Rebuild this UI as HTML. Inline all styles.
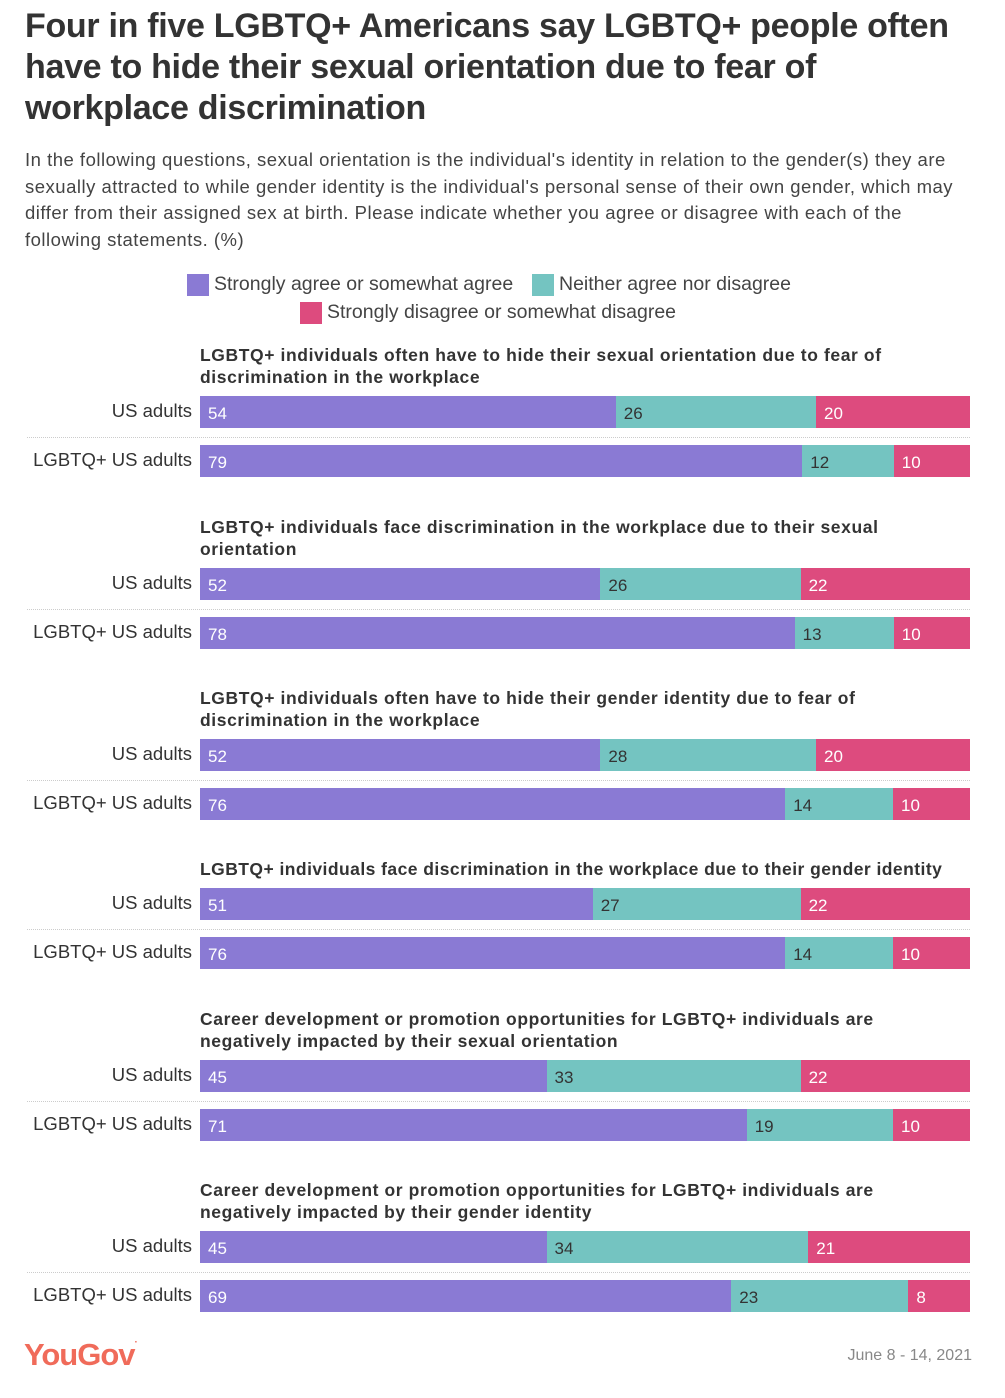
<!DOCTYPE html>
<html><head><meta charset="utf-8"><style>
body{margin:0;background:#fff;font-family:"Liberation Sans",sans-serif;color:#333}
#root{position:relative;width:1005px;height:1398px;overflow:hidden}
.abs{position:absolute}
h1{position:absolute;left:25px;top:6px;margin:0;font-size:34px;line-height:41px;font-weight:bold;color:#333;width:960px;letter-spacing:-0.3px}
.sub{left:25px;top:147px;width:960px;font-size:18.5px;line-height:26.7px;color:#444;white-space:nowrap;letter-spacing:0.5px}
.leg{font-size:19.5px;color:#444;display:flex;align-items:center;white-space:nowrap}
.sw{width:22px;height:22px;margin-right:5px}
.gt{font-size:17.5px;font-weight:bold;line-height:22px;left:200px;width:790px;color:#333;white-space:pre;letter-spacing:0.6px}
.lab{font-size:18.5px;color:#333;text-align:right;width:192px;left:0}
.seg{position:absolute;height:32px;font-size:17px;line-height:36px;box-sizing:border-box;padding-left:8px;overflow:hidden}
.sep{left:27px;width:943px;border-top:1px dotted #ccc;height:0}
</style></head><body>
<div id="root">
<h1>Four in five LGBTQ+ Americans say LGBTQ+ people often<br>have to hide their sexual orientation due to fear of<br>workplace discrimination</h1>
<div class="abs sub">In the following questions, sexual orientation is the individual's identity in relation to the gender(s) they are<br>sexually attracted to while gender identity is the individual's personal sense of their own gender, which may<br>differ from their assigned sex at birth. Please indicate whether you agree or disagree with each of the<br>following statements. (%)</div>
<div class="abs leg" style="left:187px;top:273px"><div class="sw" style="background:#8a7ad4"></div>Strongly agree or somewhat agree</div>
<div class="abs leg" style="left:532px;top:273px"><div class="sw" style="background:#74c4c1"></div>Neither agree nor disagree</div>
<div class="abs leg" style="left:300px;top:301px"><div class="sw" style="background:#dd4b7e"></div>Strongly disagree or somewhat disagree</div>
<div class="abs" style="left:24px;top:1337px;font-size:31px;font-weight:bold;color:#f06b5a;letter-spacing:-1px">YouGov<span style="font-size:10px;vertical-align:top">·</span></div>
<div class="abs" style="right:33px;top:1347px;font-size:16px;color:#888">June 8 - 14, 2021</div>
</div>
<script>
const questions=["LGBTQ+ individuals often have to hide their sexual orientation due to fear of\ndiscrimination in the workplace","LGBTQ+ individuals face discrimination in the workplace due to their sexual\norientation","LGBTQ+ individuals often have to hide their gender identity due to fear of\ndiscrimination in the workplace","LGBTQ+ individuals face discrimination in the workplace due to their gender identity","Career development or promotion opportunities for LGBTQ+ individuals are\nnegatively impacted by their sexual orientation","Career development or promotion opportunities for LGBTQ+ individuals are\nnegatively impacted by their gender identity"];
const groups=["US adults","LGBTQ+ US adults"];
const agree=[[54,79],[52,78],[52,76],[51,76],[45,71],[45,69]];
const neither=[[26,12],[26,13],[28,14],[27,14],[33,19],[34,23]];
const disagree=[[20,10],[22,10],[20,10],[22,10],[22,10],[21,8]];
const root=document.getElementById('root');
const rowTop=[396,568,739,888,1060,1231];
const titleTop=[344,516,687,858,1008,1179];
const X0=200,W=770;
const colors=['#8a7ad4','#74c4c1','#dd4b7e'];
const txt=['#fff','#333','#fff'];
function xs(v,sum){return v/sum*W;}
questions.forEach((q,i)=>{
 const t=document.createElement('div');t.className='abs gt';t.style.top=titleTop[i]+'px';t.textContent=q;
 if(i===3){t.style.letterSpacing='0.45px';}
 
 
 root.appendChild(t);
 const s=document.createElement('div');s.className='abs sep';s.style.top=(rowTop[i]+41)+'px';
 
 
 root.appendChild(s);
 groups.forEach((g,j)=>{
  const y=rowTop[i]+j*49;
  const l=document.createElement('div');l.className='abs lab';l.style.top=(y+4)+'px';l.textContent=g;
  
  
  root.appendChild(l);
  const vals=[agree[i][j],neither[i][j],disagree[i][j]];
  const sum=vals[0]+vals[1]+vals[2];
  let acc=0;
  vals.forEach((v,k)=>{
   const b=document.createElement('div');b.className='seg';
   const x=X0+xs(acc,sum);acc+=v;const x2=X0+xs(acc,sum);
   b.style.left=x+'px';b.style.width=(x2-x)+'px';b.style.top=y+'px';
   b.style.background=colors[k];b.style.color=txt[k];b.textContent=v;
   
   
   root.appendChild(b);
  });
 });
});
</script>
</body></html>
